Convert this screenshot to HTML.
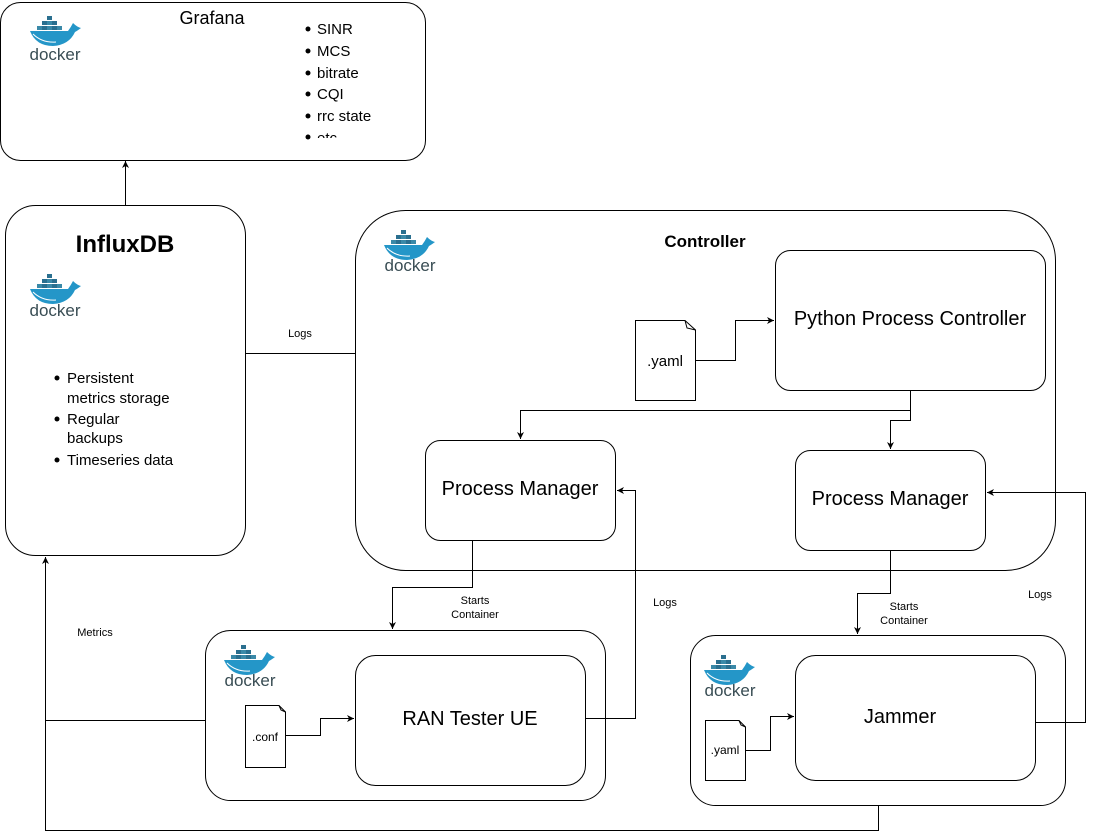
<!DOCTYPE html>
<html><head><meta charset="utf-8"><style>body{margin:0;background:#fff}svg{display:block;font-family:"Liberation Sans",sans-serif}</style></head><body>
<svg width="1094" height="839" viewBox="0 0 1094 839" xmlns="http://www.w3.org/2000/svg">
<defs>
<marker id="a" markerWidth="8" markerHeight="8" refX="7" refY="4" orient="auto" markerUnits="userSpaceOnUse"><path d="M0,0.5 L7,4 L0,7.5 L2,4z" fill="#000"/></marker>
<g id="dk">
<rect x="17" y="2" width="5" height="4" fill="#2a6f8f"/>
<rect x="12" y="7" width="5" height="4" fill="#2a6f8f"/><rect x="17" y="7" width="5" height="4" fill="#3a89a8"/><rect x="22" y="7" width="5" height="4" fill="#2a6f8f"/>
<rect x="7" y="12" width="5" height="4" fill="#3a89a8"/><rect x="12" y="12" width="5" height="4" fill="#2a6f8f"/><rect x="17" y="12" width="5" height="4" fill="#3a89a8"/><rect x="22" y="12" width="5" height="4" fill="#2a6f8f"/><rect x="27" y="12" width="5" height="4" fill="#3a89a8"/>
<path d="M0,17 H38 Q41,13 43,9 Q47,13 51,14 Q47,17 45,18 Q39,31 23,32 Q6,32 0,17z" fill="#2496c8"/>
<path d="M3,20 Q12,29 26,28" stroke="#fff" stroke-width="1" fill="none"/>
</g>
</defs>
<g fill="none" stroke="#000" stroke-width="1">
<rect x="0.5" y="2.5" width="425" height="158" rx="20"/>
<rect x="5.5" y="205.5" width="240" height="350" rx="30"/>
<rect x="355.5" y="210.5" width="700" height="360" rx="50"/>
<rect x="775.5" y="250.5" width="270" height="140" rx="15"/>
<rect x="425.5" y="440.5" width="190" height="100" rx="15"/>
<rect x="795.5" y="450.5" width="190" height="100" rx="15"/>
<rect x="205.5" y="630.5" width="400" height="170" rx="25"/>
<rect x="355.5" y="655.5" width="230" height="130" rx="20"/>
<rect x="690.5" y="635.5" width="375" height="170" rx="25"/>
<rect x="795.5" y="655.5" width="240" height="125" rx="20"/>
<path d="M635.5,320.5 H685 L695.5,330 V400.5 H635.5z"/><path d="M685,320.5 L687,328 L695.5,330"/>
<path d="M245.5,705.5 H279 L285.5,712 V767.5 H245.5z"/><path d="M279,705.5 L281,710 L285.5,712"/>
<path d="M705.5,720.5 H739 L745.5,727 V780.5 H705.5z"/><path d="M739,720.5 L741,725 L745.5,727"/>
<path d="M125.5,205 V161" marker-end="url(#a)"/>
<path d="M245,353.5 H355"/>
<path d="M695,360.5 H735.5 V320.5 H774" marker-end="url(#a)"/>
<path d="M910.5,390 V410.5 H520.5 V439" marker-end="url(#a)"/>
<path d="M910.5,410 V420.5 H890.5 V449" marker-end="url(#a)"/>
<path d="M472.5,540 V587.5 H392.5 V629" marker-end="url(#a)"/>
<path d="M890.5,550 V593.5 H857.5 V634" marker-end="url(#a)"/>
<path d="M285,735.5 H320.5 V718.5 H354" marker-end="url(#a)"/>
<path d="M745,750.5 H770.5 V716.5 H794" marker-end="url(#a)"/>
<path d="M585,718.5 H635.5 V490.5 H617" marker-end="url(#a)"/>
<path d="M1035,722.5 H1085.5 V492.5 H987" marker-end="url(#a)"/>
<path d="M205,720.5 H45.5 V557" marker-end="url(#a)"/>
<path d="M878.5,805 V830.5 H45.5 V720"/>
</g>
<use href="#dk" x="30" y="14"/><use href="#dk" x="30" y="272"/><use href="#dk" x="384" y="228"/><use href="#dk" x="224" y="643"/><use href="#dk" x="704" y="653"/>
<g fill="#394d54" font-size="17" text-anchor="middle"><text x="55" y="60">docker</text><text x="55" y="316">docker</text><text x="410" y="271">docker</text><text x="250" y="686">docker</text><text x="730" y="696">docker</text></g>
<g font-size="15" fill="#000">
<text x="212" y="24" text-anchor="middle" font-size="18">Grafana</text>
<text x="317" y="34">SINR</text><text x="317" y="56">MCS</text><text x="317" y="78">bitrate</text><text x="317" y="99">CQI</text><text x="317" y="121">rrc state</text>
<svg x="300" y="130" width="120" height="8" overflow="hidden"><text x="17" y="13" font-size="15">etc</text></svg>
<circle cx="308" cy="29" r="2.5"/><circle cx="308" cy="51" r="2.5"/><circle cx="308" cy="73" r="2.5"/><circle cx="308" cy="94" r="2.5"/><circle cx="308" cy="116" r="2.5"/><circle cx="308" cy="137" r="2.5"/>
<text x="125" y="252" text-anchor="middle" font-size="24" font-weight="bold">InfluxDB</text>
<circle cx="57" cy="378" r="2.5"/><circle cx="57" cy="419" r="2.5"/><circle cx="57" cy="460" r="2.5"/>
<text x="67" y="383">Persistent</text><text x="67" y="403">metrics storage</text><text x="67" y="424">Regular</text><text x="67" y="443">backups</text><text x="67" y="465">Timeseries data</text>
<text x="705" y="247" text-anchor="middle" font-weight="bold" font-size="17">Controller</text>
<text x="910" y="325" text-anchor="middle" font-size="20">Python Process Controller</text>
<text x="665" y="366" text-anchor="middle">.yaml</text>
<text x="520" y="495" text-anchor="middle" font-size="20">Process Manager</text>
<text x="890" y="505" text-anchor="middle" font-size="20">Process Manager</text>
<text x="470" y="725" text-anchor="middle" font-size="20">RAN Tester UE</text>
<text x="900" y="723" text-anchor="middle" font-size="20">Jammer</text>
<text x="265" y="741" text-anchor="middle" font-size="12">.conf</text>
<text x="725" y="754" text-anchor="middle" font-size="12">.yaml</text>
<g font-size="11" text-anchor="middle"><text x="300" y="337">Logs</text><text x="475" y="604">Starts</text><text x="475" y="618">Container</text><text x="904" y="610">Starts</text><text x="904" y="624">Container</text><text x="665" y="606">Logs</text><text x="1040" y="598">Logs</text><text x="95" y="636">Metrics</text></g>
</g>
</svg>
</body></html>
